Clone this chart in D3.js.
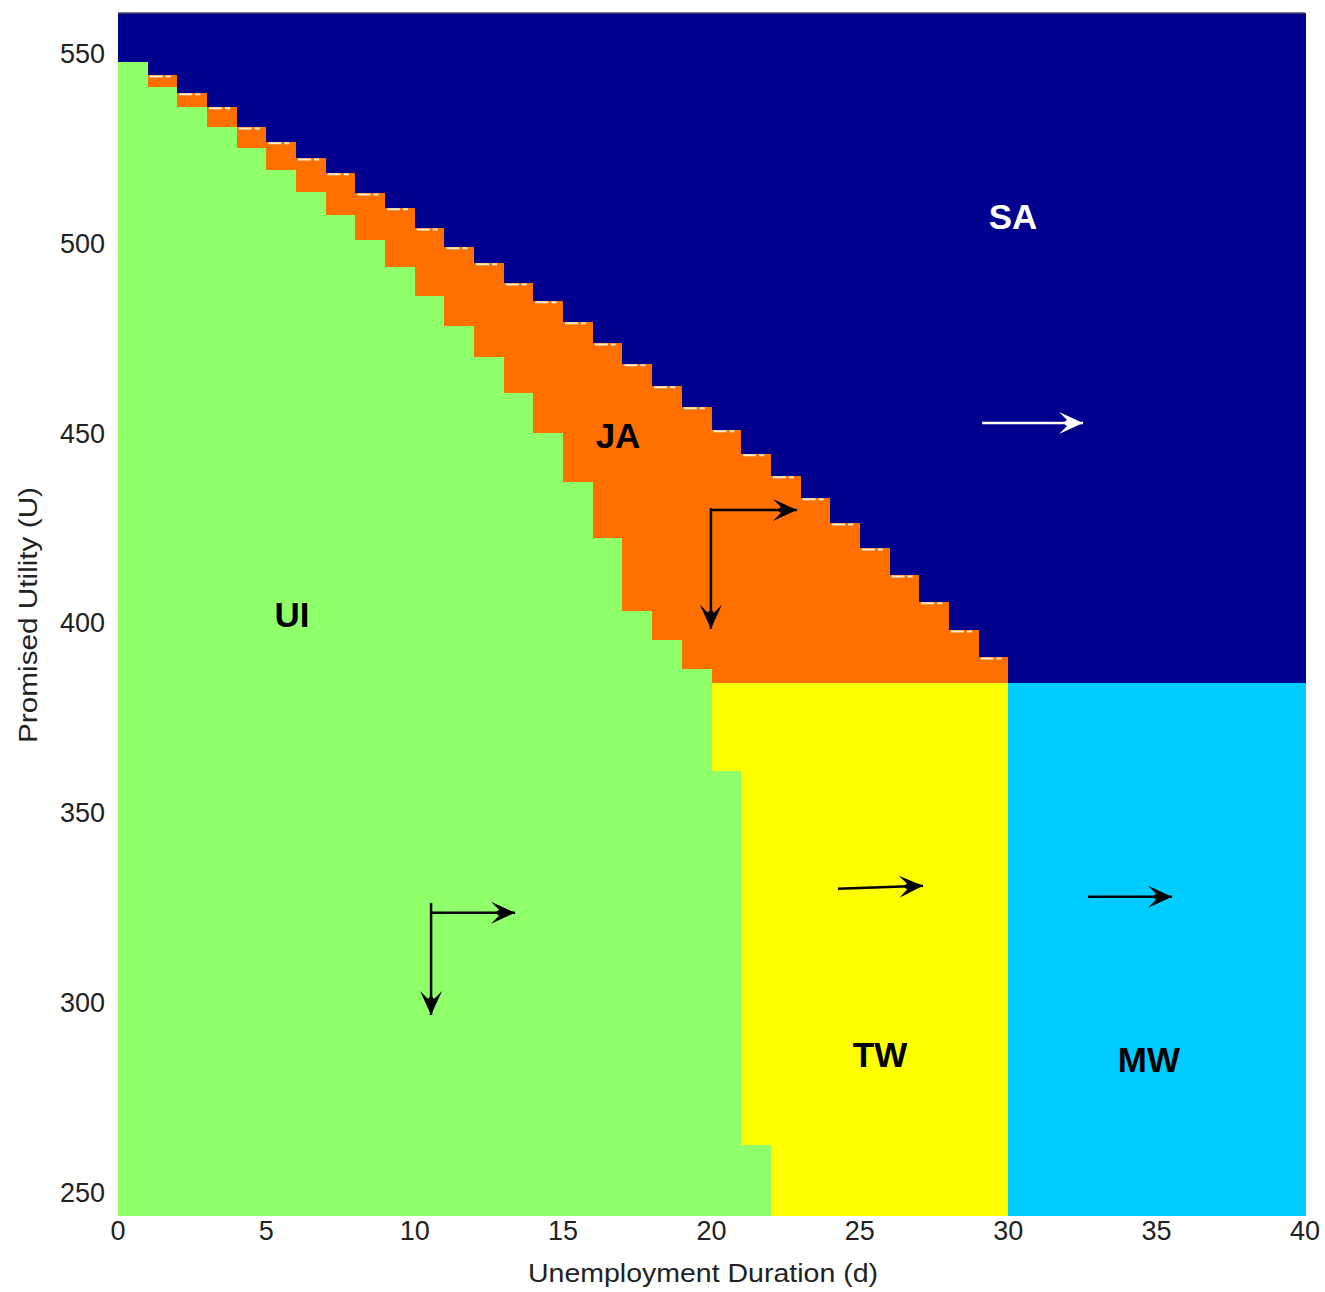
<!DOCTYPE html>
<html>
<head>
<meta charset="utf-8">
<script src="https://cdn.jsdelivr.net/npm/d3@7"></script>
<style>
  html, body { margin: 0; padding: 0; background: #fff; }
  svg { display: block; }
</style>
</head>
<body>
<svg id="chart" width="1325" height="1292"></svg>
<script>
// columns of the policy grid (unemployment duration, left edge of each 1-unit cell)
const durations = [0,1,2,3,4,5,6,7,8,9,10,11,12,13,14,15,16,17,18,19,
                   20,21,22,23,24,25,26,27,28,29,30,31,32,33,34,35,36,37,38,39];

// SA / JA boundary (U) for d = 0..29
const saBoundary = [547.6, 544.2, 539.5, 535.8, 530.5, 526.6, 522.3, 518.4, 513.1, 509.2,
                    503.9, 498.9, 494.7, 489.4, 484.7, 479.2, 473.6, 468.1, 462.3, 456.8,
                    450.7, 444.4, 438.6, 432.8, 426.2, 419.6, 412.5, 405.4, 398.0, 390.9];
// JA / UI boundary (U) for d = 0..19
const uiBoundary = [547.6, 541.0, 535.8, 530.5, 525.0, 519.2, 513.4, 507.3, 500.7, 493.6,
                    486.0, 478.1, 469.9, 460.4, 449.9, 437.0, 422.3, 403.1, 395.4, 387.8];
// TW / UI boundary (U) for d = 20, 21 (UI gone from d = 22)
const twBoundary = [360.9, 262.4];
// wage level splitting SA/JA from MW/TW
const wageFloor = 384;

const xTicks = [0, 5, 10, 15, 20, 25, 30, 35, 40];
const yTicks = [250, 300, 350, 400, 450, 500, 550];

const regionLabels = [
  { text: "SA", d: 30.16, u: 503.6, color: "#ffffff" },
  { text: "JA", d: 16.85, u: 445.9, color: "#000000" },
  { text: "UI", d: 5.86,  u: 398.8, color: "#000000" },
  { text: "TW", d: 25.68, u: 282.9, color: "#000000" },
  { text: "MW", d: 34.74, u: 281.6, color: "#000000" },
];

// transition arrows [d1, u1, d2, u2, colour]
const arrows = [
  [29.12, 452.5, 32.52, 452.5, "#ffffff"],
  [19.98, 429.6, 22.88, 429.6, "#000000"],
  [19.98, 430.1, 19.98, 398.3, "#000000"],
  [10.55, 323.5, 13.38, 323.5, "#000000"],
  [10.55, 326.1, 10.55, 296.6, "#000000"],
  [24.26, 329.8, 27.13, 330.6, "#000000"],
  [32.69, 327.7, 35.52, 327.7, "#000000"],
];

const COLORS = {
  SA: "#00008f",
  JA: "#ff7000",
  UI: "#8fff6a",
  TW: "#ffff00",
  MW: "#00ccff",
};

const svg = d3.select("#chart");
const x = d3.scaleLinear().domain([0, 40]).range([118, 1305]);
const y = d3.scaleLinear().domain([243.9, 560.5]).range([1215, 13]);
const [uMin, uMax] = y.domain();

// build cell segments column by column
const cells = [];
durations.forEach((d) => {
  if (d < 30) {
    cells.push({ d, key: "SA", top: uMax, bot: saBoundary[d] });
    if (d < 20) {
      cells.push({ d, key: "JA", top: saBoundary[d], bot: uiBoundary[d] });
      cells.push({ d, key: "UI", top: uiBoundary[d], bot: uMin });
    } else {
      cells.push({ d, key: "JA", top: saBoundary[d], bot: wageFloor });
      const tw = twBoundary[d - 20] ?? uMin;
      cells.push({ d, key: "TW", top: wageFloor, bot: tw });
      if (tw > uMin) cells.push({ d, key: "UI", top: tw, bot: uMin });
    }
  } else {
    cells.push({ d, key: "SA", top: uMax, bot: wageFloor });
    cells.push({ d, key: "MW", top: wageFloor, bot: uMin });
  }
});

svg.append("g")
  .attr("shape-rendering", "crispEdges")
  .selectAll("rect")
  .data(cells.filter((c) => c.top > c.bot))
  .join("rect")
  .attr("x", (c) => x(c.d))
  .attr("y", (c) => y(c.top))
  .attr("width", (c) => x(c.d + 1) - x(c.d) + 0.6)
  .attr("height", (c) => y(c.bot) - y(c.top) + 0.6)
  .attr("fill", (c) => COLORS[c.key]);

// light rendering dashes along the top of each JA step
svg.append("g")
  .selectAll("line")
  .data(saBoundary.slice(1).map((u, i) => ({ d: i + 1, u })))
  .join("line")
  .attr("x1", (s) => x(s.d) + 2)
  .attr("x2", (s) => x(s.d + 1) - 4)
  .attr("y1", (s) => y(s.u) + 1.5)
  .attr("y2", (s) => y(s.u) + 1.5)
  .attr("stroke", "#f6f1d4")
  .attr("stroke-width", 2)
  .attr("stroke-dasharray", "13,3,5,4");

// frame top line
svg.append("line")
  .attr("x1", x(0)).attr("x2", x(40))
  .attr("y1", y(uMax)).attr("y2", y(uMax))
  .attr("stroke", "#4a4a6a").attr("stroke-width", 1.5);

// axes (labels only, MATLAB style)
const tickFont = "'Liberation Sans', Arial, sans-serif";
svg.append("g")
  .selectAll("text")
  .data(xTicks)
  .join("text")
  .attr("x", (d) => x(d))
  .attr("y", 1240)
  .attr("text-anchor", "middle")
  .attr("font-family", tickFont)
  .attr("font-size", 27)
  .attr("fill", "#222")
  .text((d) => d);

svg.append("g")
  .selectAll("text")
  .data(yTicks)
  .join("text")
  .attr("x", 105)
  .attr("y", (u) => y(u) + 10)
  .attr("text-anchor", "end")
  .attr("font-family", tickFont)
  .attr("font-size", 27)
  .attr("fill", "#222")
  .text((u) => u);

svg.append("text")
  .attr("x", 703)
  .attr("y", 1282)
  .attr("text-anchor", "middle")
  .attr("font-family", tickFont)
  .attr("font-size", 26)
  .attr("textLength", 350)
  .attr("lengthAdjust", "spacingAndGlyphs")
  .attr("fill", "#222")
  .text("Unemployment Duration (d)");

svg.append("text")
  .attr("transform", "translate(37,615) rotate(-90)")
  .attr("text-anchor", "middle")
  .attr("font-family", tickFont)
  .attr("font-size", 26)
  .attr("textLength", 256)
  .attr("lengthAdjust", "spacingAndGlyphs")
  .attr("fill", "#222")
  .text("Promised Utility (U)");

// arrowheads
const defs = svg.append("defs");
["#000000", "#ffffff"].forEach((c, i) => {
  defs.append("marker")
    .attr("id", `head${i}`)
    .attr("viewBox", "-26 -12 28 24")
    .attr("refX", 0)
    .attr("refY", 0)
    .attr("markerWidth", 28)
    .attr("markerHeight", 24)
    .attr("markerUnits", "userSpaceOnUse")
    .attr("orient", "auto")
    .append("path")
    .attr("d", "M0,0 L-24,-11 L-16,-3 L-20,0 L-16,3 L-24,11 Z")
    .attr("fill", c);
});

svg.append("g")
  .selectAll("line")
  .data(arrows)
  .join("line")
  .attr("x1", (a) => x(a[0]))
  .attr("y1", (a) => y(a[1]))
  .attr("x2", (a) => x(a[2]))
  .attr("y2", (a) => y(a[3]))
  .attr("stroke", (a) => a[4])
  .attr("stroke-width", 2.5)
  .attr("marker-end", (a) => `url(#head${a[4] === "#ffffff" ? 1 : 0})`);

// region labels
svg.append("g")
  .selectAll("text")
  .data(regionLabels)
  .join("text")
  .attr("x", (l) => x(l.d))
  .attr("y", (l) => y(l.u))
  .attr("text-anchor", "middle")
  .attr("font-family", "'Liberation Sans', Arial, sans-serif")
  .attr("font-weight", "bold")
  .attr("font-size", 35)
  .attr("fill", (l) => l.color)
  .text((l) => l.text);
</script>
</body>
</html>
